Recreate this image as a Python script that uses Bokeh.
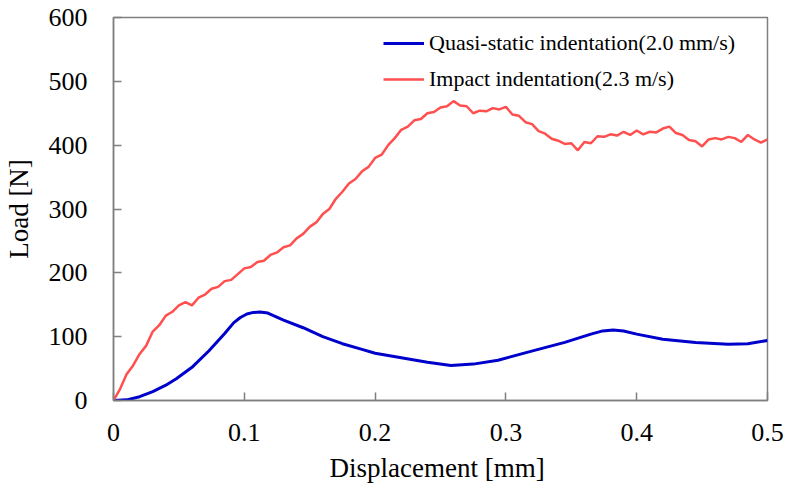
from bokeh.plotting import figure
from bokeh.models import Range1d, FixedTicker, Legend, LegendItem
from bokeh.embed import file_html
from bokeh.resources import INLINE

# ---- data ----
x_ticks = [0, 0.1, 0.2, 0.3, 0.4, 0.5]
x_tick_labels = ["0", "0.1", "0.2", "0.3", "0.4", "0.5"]
y_ticks = [0, 100, 200, 300, 400, 500, 600]

quasi_x = [0, 0.01, 0.02, 0.03, 0.04, 0.048, 0.06, 0.073, 0.085, 0.092, 0.097, 0.102, 0.107,
           0.112, 0.118, 0.13, 0.145, 0.16, 0.175, 0.19, 0.2, 0.22, 0.24, 0.258, 0.275,
           0.294, 0.319, 0.345, 0.365, 0.374, 0.382, 0.39, 0.4, 0.42, 0.445, 0.47, 0.485, 0.5]
quasi_y = [0, 1, 6, 14, 24, 34, 52, 78, 105, 122, 130, 135.5, 138,
           138.5, 137, 126, 114, 100, 89, 80, 74, 67, 60, 55, 57,
           63, 77, 91, 104, 109, 110.5, 109, 104, 96, 91, 88, 89, 94]

impact_x = [0, 0.005, 0.01, 0.015, 0.02, 0.025, 0.03, 0.035, 0.04, 0.045,
            0.05, 0.055, 0.06, 0.065, 0.07, 0.075, 0.08, 0.085, 0.09, 0.095,
            0.1, 0.105, 0.11, 0.115, 0.12, 0.125, 0.13, 0.135, 0.14, 0.145,
            0.15, 0.155, 0.16, 0.165, 0.17, 0.175, 0.18, 0.185, 0.19, 0.195,
            0.2, 0.205, 0.21, 0.215, 0.22, 0.225, 0.23, 0.235, 0.24, 0.245,
            0.25, 0.255, 0.26, 0.265, 0.27, 0.275, 0.28, 0.285, 0.29, 0.295,
            0.3, 0.305, 0.31, 0.315, 0.32, 0.325, 0.33, 0.335, 0.34, 0.345,
            0.35, 0.355, 0.36, 0.365, 0.37, 0.375, 0.38, 0.385, 0.39, 0.395,
            0.4, 0.405, 0.41, 0.415, 0.42, 0.425, 0.43, 0.435, 0.44, 0.445,
            0.45, 0.455, 0.46, 0.465, 0.47, 0.475, 0.48, 0.485, 0.49, 0.495, 0.5]
impact_y = [0, 18, 41, 55, 73, 86, 108, 118, 133, 139,
            149, 154, 149, 161, 166, 175, 178, 187, 189, 198,
            207, 209, 217, 219, 228, 232, 240, 243, 254, 261,
            272, 279, 292, 300, 316, 327, 340, 347, 359, 366,
            380, 385, 400, 411, 424, 429, 439, 441, 450, 452,
            459, 461, 469, 462, 461, 450, 454, 453, 458, 456,
            460, 448, 446, 436, 433, 422, 418, 410, 407, 402,
            403, 392, 405, 403, 414, 413, 417, 415, 421, 416,
            423, 417, 421, 420, 426, 429, 419, 416, 408, 406,
            398, 409, 411, 409, 413, 411, 405, 416, 409, 404, 409]

FONT = "Liberation Serif"
FRAME = "#7f7f7f"

p = figure(width=787, height=492, output_backend="svg", toolbar_location=None,
           x_range=Range1d(0, 0.5), y_range=Range1d(0, 600),
           min_border_left=112, min_border_right=20, min_border_top=17, min_border_bottom=92)

p.xgrid.visible = False
p.ygrid.visible = False
p.outline_line_color = FRAME
p.outline_line_width = 1.5
p.background_fill_color = "white"
p.border_fill_color = "white"

for ax in (p.xaxis[0], p.yaxis[0]):
    ax.axis_line_color = FRAME
    ax.axis_line_width = 1.5
    ax.major_tick_line_color = FRAME
    ax.major_tick_line_width = 1.5
    ax.major_tick_in = 8
    ax.major_tick_out = 0
    ax.minor_tick_line_color = None
    ax.major_label_text_font = FONT
    ax.major_label_text_font_size = "26px"
    ax.major_label_text_color = "black"
    ax.axis_label_text_font = FONT
    ax.axis_label_text_font_size = "27px"
    ax.axis_label_text_font_style = "normal"
    ax.axis_label_text_color = "black"

p.xaxis.ticker = FixedTicker(ticks=x_ticks)
p.xaxis.major_label_overrides = {t: s for t, s in zip(x_ticks, x_tick_labels)}
p.xaxis.major_label_standoff = 23
p.xaxis.axis_label = "Displacement  [mm]"
p.xaxis.axis_label_standoff = 9

p.yaxis.ticker = FixedTicker(ticks=y_ticks)
p.yaxis.major_label_standoff = 26
p.yaxis.axis_label = "Load [N]"
p.yaxis.axis_label_standoff = 12

r_q = p.line(quasi_x, quasi_y, line_color="#0000cc", line_width=3)
r_i = p.line(impact_x, impact_y, line_color="#ff4f4f", line_width=2.5)

legend = Legend(items=[LegendItem(label="Quasi-static indentation(2.0 mm/s)", renderers=[r_q]),
                       LegendItem(label="Impact indentation(2.3 m/s)", renderers=[r_i])],
                location=(270, 306), orientation="vertical")
legend.label_text_font = FONT
legend.label_text_font_size = "22px"
legend.label_text_color = "black"
legend.glyph_width = 41
legend.glyph_height = 30
legend.label_height = 30
legend.label_standoff = 5
legend.spacing = 6
legend.padding = 0
legend.margin = 0
legend.border_line_color = None
legend.background_fill_alpha = 0
p.add_layout(legend)

open("out.html", "w").write(file_html(p, INLINE))
